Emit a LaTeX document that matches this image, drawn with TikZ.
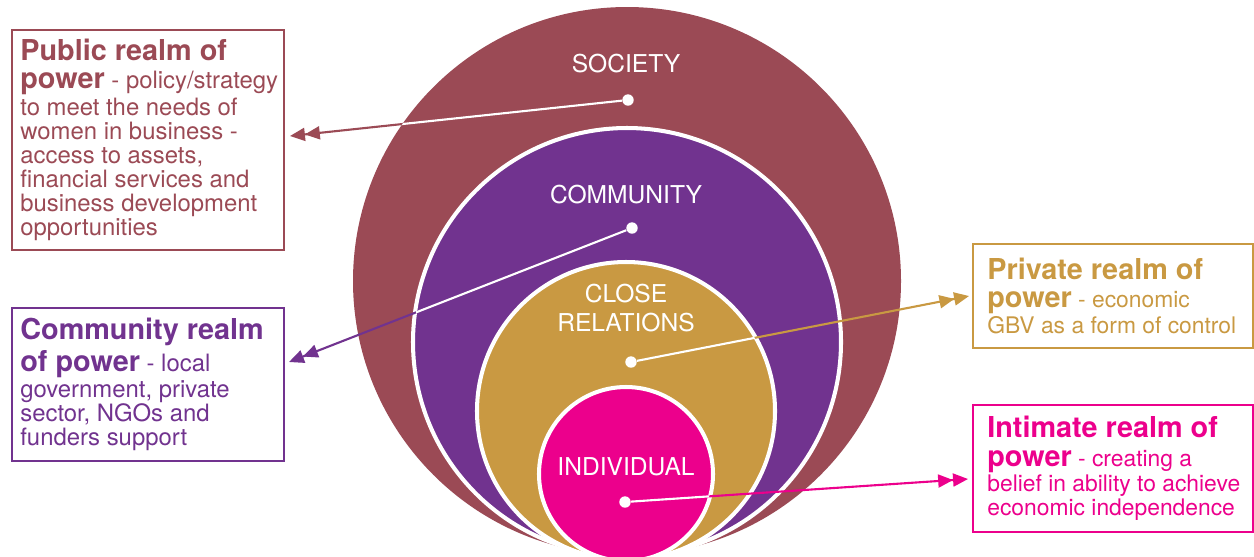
\documentclass[tikz,border=0pt]{standalone}
\usepackage{fontspec}
\setmainfont{TeX Gyre Heros}
\usepackage{xcolor}
\usetikzlibrary{arrows.meta}
\definecolor{socbrown}{RGB}{155,74,85}
\definecolor{compurple}{RGB}{113,51,143}
\definecolor{closegold}{RGB}{201,153,66}
\definecolor{indpink}{RGB}{236,0,140}
\newcommand{\realmtitle}{\fontsize{16.4}{16.4}\selectfont\bfseries}

\begin{document}
\begin{tikzpicture}[x=0.02cm,y=-0.02cm,
    ring/.style={draw=white,line width=2.3pt},
    dot/.style={circle,fill=white,inner sep=0pt,minimum size=6.5pt},
    lbl/.style={text=white,font=\fontsize{14}{16}\selectfont,align=center},
    conn/.style={line width=1.2pt,-{Triangle[length=8.5pt,width=7.4pt]Triangle[length=8.5pt,width=7.4pt]}},
    realm/.style={draw=#1,line width=1.1pt,anchor=north west,inner sep=0pt},
    realmtext/.style={text=#1,anchor=west,align=left,inner sep=0pt},
    lefttext/.style={realmtext=#1,font=\fontsize{13.6}{13.7}\selectfont},
    righttext/.style={realmtext=#1,font=\fontsize{13}{13.7}\selectfont}]
\useasboundingbox (0,0) rectangle (1254,556);
\clip (0,0) rectangle (1254,556);

% the circles
\fill[socbrown] (627,281) circle[radius=274];
\filldraw[fill=compurple, ring] (627,342) circle[radius=214];
\filldraw[fill=closegold, ring] (626,411) circle[radius=149];
\filldraw[fill=indpink, ring] (626,474) circle[radius=87];

    \node[lbl] (soc) at (626,64) {SOCIETY};
    \node[lbl] (com) at (626,195) {COMMUNITY};
    \node[lbl] (clo) at (626,308) {CLOSE\\RELATIONS};
    \node[lbl] (ind) at (626,467) {INDIVIDUAL};

    \node[dot] (socdot) at (628,100) {};
    \node[dot] (comdot) at (632,228) {};
    \node[dot] (clodot) at (631,362) {};
    \node[dot] (inddot) at (625,502) {};

    % the realm boxes
    \node[realm=socbrown, minimum width=5.44cm, minimum height=4.4cm] (pub) at (11,29) {};
    \node[realm=compurple, minimum width=5.44cm, minimum height=3.06cm] (comm) at (11,307) {};
    \node[realm=closegold, minimum width=5.6cm, minimum height=2.08cm] (priv) at (972,243) {};
    \node[realm=indpink, minimum width=5.6cm, minimum height=2.54cm] (intim) at (972,404) {};

    \node[lefttext=socbrown] (pubtxt) at ([xshift=0.18cm]pub.west)
      {{\realmtitle Public realm of}\\[2pt]{\realmtitle power} - policy/strategy\\[1.5pt]
       to meet the needs of\\ women in business -\\ access to assets,\\
       financial services and\\ business development\\ opportunities};
    \node[lefttext=compurple] (commtxt) at ([xshift=0.18cm]comm.west)
      {{\realmtitle Community realm}\\[2pt]{\realmtitle of power} - local\\[1pt]
       government, private\\ sector, NGOs and\\ funders support};
    \node[righttext=closegold] (privtxt) at ([xshift=0.3cm]priv.west)
      {{\realmtitle Private realm of}\\[2.5pt]{\realmtitle power} - economic\\[1pt]
       GBV as a form of control};
    \node[righttext=indpink] (intimtxt) at ([xshift=0.3cm]intim.west)
      {{\realmtitle Intimate realm of}\\[2.5pt]{\realmtitle power} - creating a\\[0.5pt]
       belief in ability to achieve\\ economic independence};

    \coordinate (pubend) at (290,136);
    \coordinate (comend) at (289,362);
    \coordinate (priend) at (969,296);
    \coordinate (intend) at (968,479);

    % draw the arrows
    \draw[conn, socbrown] (socdot) -- (pubend);
    \draw[conn, compurple] (comdot) -- (comend);
    \draw[conn, closegold] (clodot) -- (priend);
    \draw[conn, indpink] (inddot) -- (intend);

    % white inside their own circle
    \begin{scope}
    \clip (627,281) circle[radius=274];
    \draw[white, line width=1.2pt] (socdot) -- (pubend);
    \end{scope}
    \begin{scope}
    \clip (627,342) circle[radius=213];
    \draw[white, line width=1.2pt] (comdot) -- (comend);
    \end{scope}
    \begin{scope}
    \clip (626,411) circle[radius=148];
    \draw[white, line width=1.2pt] (clodot) -- (priend);
    \end{scope}
    \begin{scope}
    \clip (626,474) circle[radius=86];
    \draw[white, line width=1.2pt] (inddot) -- (intend);
    \end{scope}

\end{tikzpicture}
\end{document}
